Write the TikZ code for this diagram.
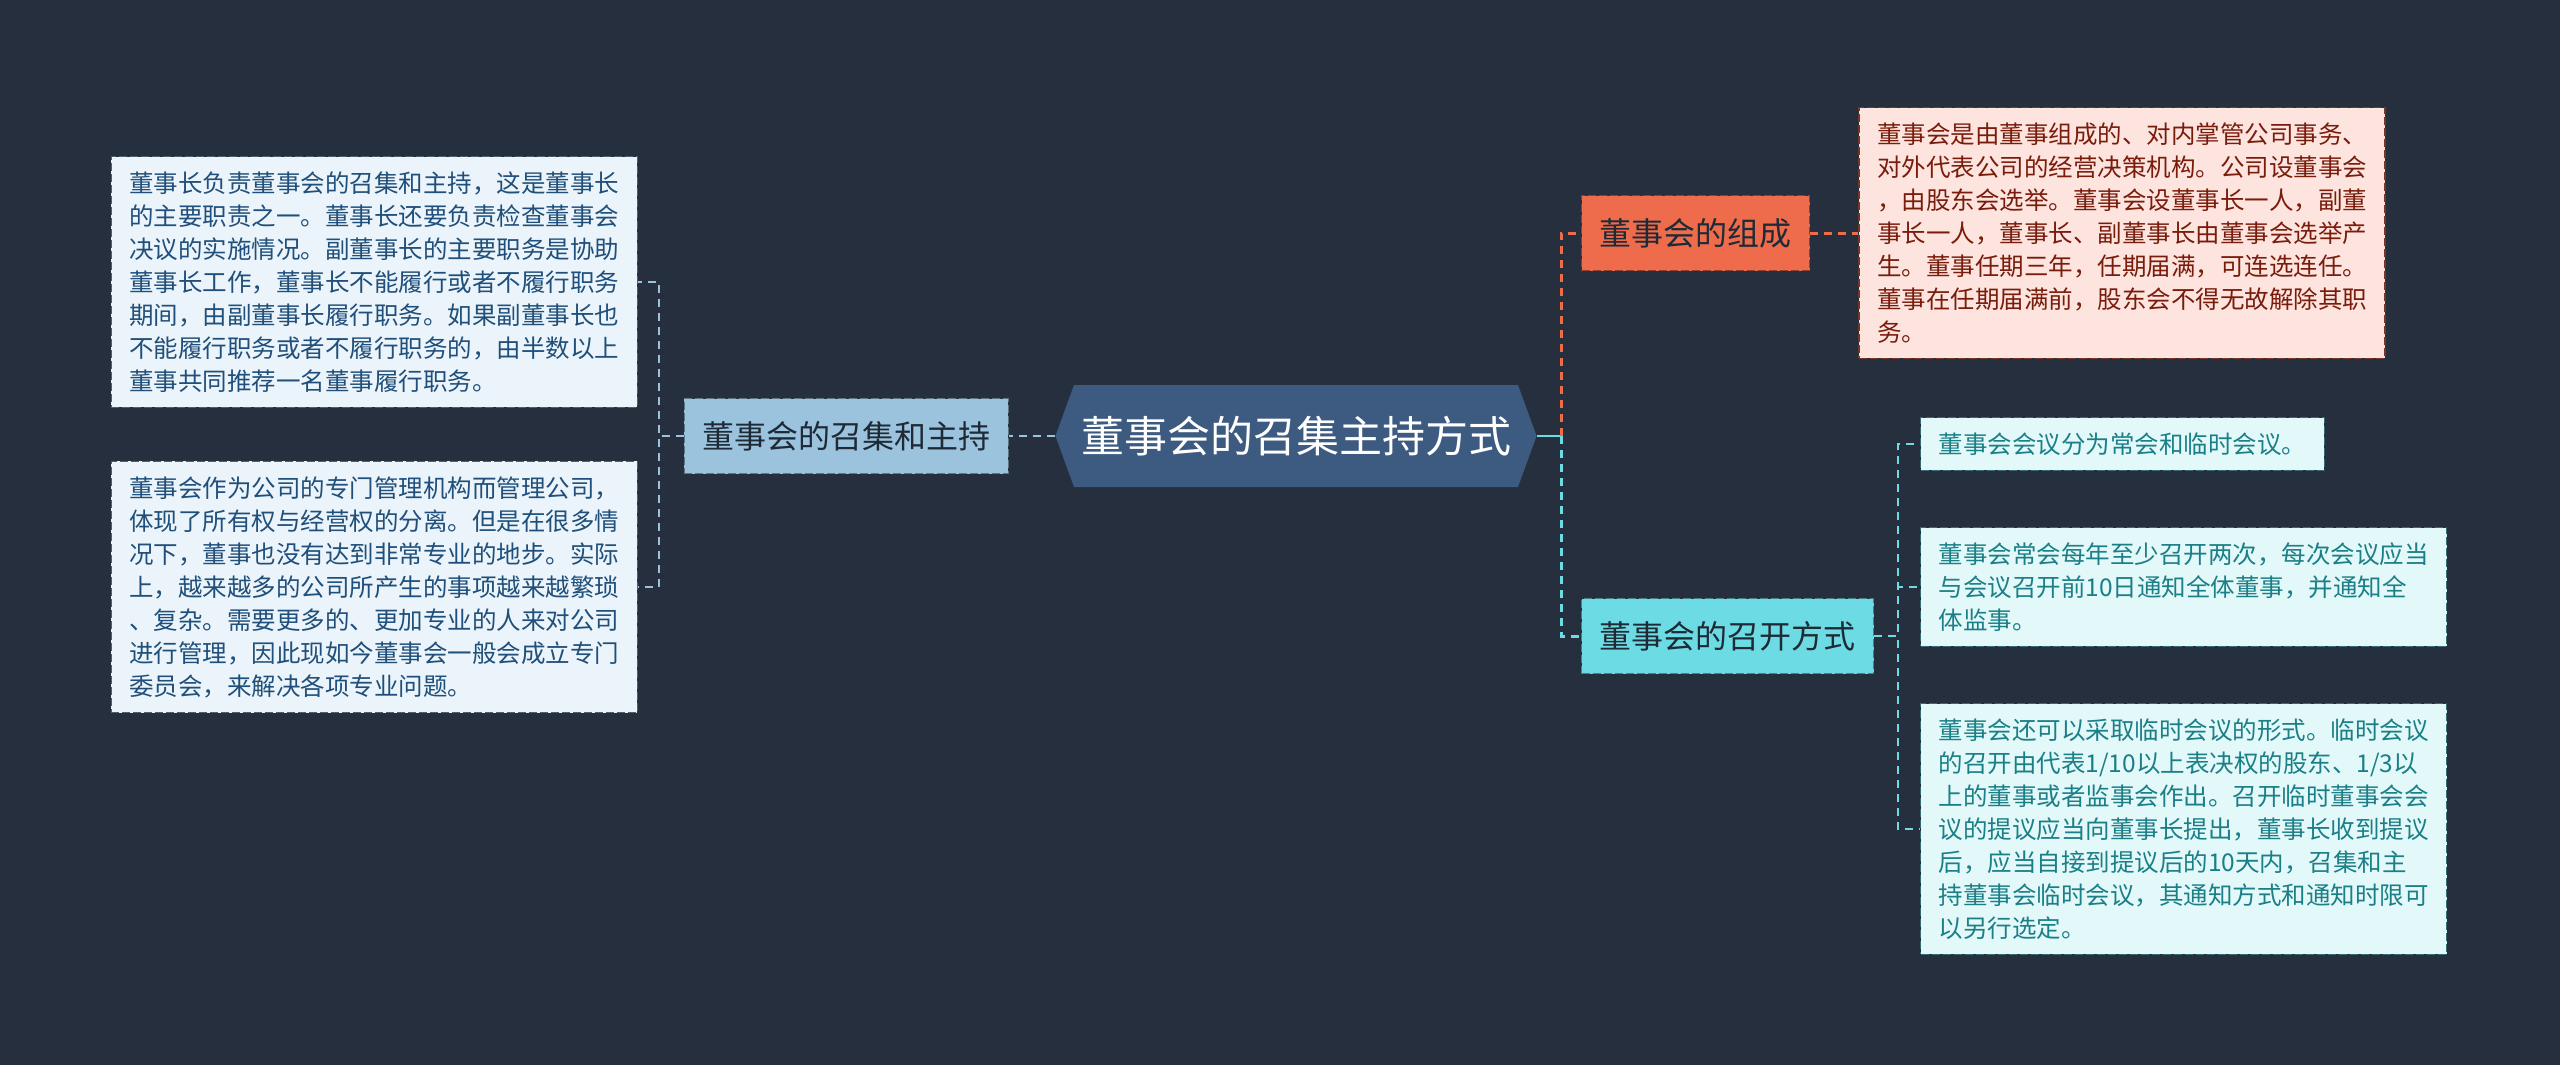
\documentclass[tikz,border=0pt]{standalone}
\usepackage{fontspec}
\setmainfont{Noto Sans CJK SC}
\usetikzlibrary{shapes.symbols, positioning, calc}
\definecolor{canvas}{HTML}{262F3D}
\definecolor{rootblue}{HTML}{3D5A80}
\definecolor{skyblue}{HTML}{9CC3DE}
\definecolor{skytext}{HTML}{1F4F7A}
\definecolor{skyfill}{HTML}{EBF4FA}
\definecolor{coral}{HTML}{EE6B4C}
\definecolor{coralfill}{HTML}{FDE4DE}
\definecolor{coraltext}{HTML}{7A1C0C}
\definecolor{aqua}{HTML}{6CDBE3}
\definecolor{aquafill}{HTML}{E2F8F9}
\definecolor{aquatext}{HTML}{1B7F87}
\definecolor{ink}{HTML}{1E2A36}

\begin{document}
\begin{tikzpicture}[x=0.5pt, y=-0.5pt,
    root/.style={signal, signal to=west and east, signal pointer angle=140, fill=rootblue, text=white, minimum height=51pt, inner xsep=3.5pt, font=\fontsize{21.5pt}{24pt}\selectfont},
    topic/.style={rectangle, draw, dash pattern=on 4pt off 1.5pt, line width=0.7pt, minimum height=37.5pt, inner xsep=9pt, text=ink, font=\fontsize{16pt}{19pt}\selectfont},
    note/.style={rectangle, draw, dash pattern=on 4pt off 1.5pt, line width=0.7pt, align=left, inner xsep=9pt, inner ysep=7.5pt, font=\fontsize{12.25pt}{16.5pt}\selectfont},
    link/.style={dash pattern=on 4pt off 3pt, line width=1.5pt},
]
    \fill[canvas] (0,0) rectangle (2560,1065);

    \node[root] (root) at (1296,436) {董事会的召集主持方式};

    \node[topic, fill=skyblue, draw=skyblue!60!black, left=23pt of root] (convene) {董事会的召集和主持};
    \node[note, fill=skyfill, draw=skyblue!50!black, text=skytext, anchor=east] (duty) at (638,282) {董事长负责董事会的召集和主持，这是董事长\\的主要职责之一。董事长还要负责检查董事会\\决议的实施情况。副董事长的主要职务是协助\\董事长工作，董事长不能履行或者不履行职务\\期间，由副董事长履行职务。如果副董事长也\\不能履行职务或者不履行职务的，由半数以上\\董事共同推荐一名董事履行职务。};
    \node[note, fill=skyfill, draw=skyblue!50!black, text=skytext, anchor=east] (split) at (638,587) {董事会作为公司的专门管理机构而管理公司，\\体现了所有权与经营权的分离。但是在很多情\\况下，董事也没有达到非常专业的地步。实际\\上，越来越多的公司所产生的事项越来越繁琐\\、复杂。需要更多的、更加专业的人来对公司\\进行管理，因此现如今董事会一般会成立专门\\委员会，来解决各项专业问题。};

    \node[topic, fill=coral, draw=coral!60!black, anchor=west] (compose) at (1581,233) {董事会的组成};
    \node[note, fill=coralfill, draw=coral!50!black, text=coraltext, right=24pt of compose] (composenote) {董事会是由董事组成的、对内掌管公司事务、\\对外代表公司的经营决策机构。公司设董事会\\，由股东会选举。董事会设董事长一人，副董\\事长一人，董事长、副董事长由董事会选举产\\生。董事任期三年，任期届满，可连选连任。\\董事在任期届满前，股东会不得无故解除其职\\务。};

    \node[topic, fill=aqua, draw=aqua!60!black, anchor=west] (hold) at (1581,636) {董事会的召开方式};
    \node[note, fill=aquafill, draw=aqua!50!black, text=aquatext, anchor=west] (kinds) at (1920,444) {董事会会议分为常会和临时会议。};
    \node[note, fill=aquafill, draw=aqua!50!black, text=aquatext, anchor=west] (regular) at (1920,587) {董事会常会每年至少召开两次，每次会议应当\\与会议召开前10日通知全体董事，并通知全\\体监事。};
    \node[note, fill=aquafill, draw=aqua!50!black, text=aquatext, anchor=west] (special) at (1920,829) {董事会还可以采取临时会议的形式。临时会议\\的召开由代表1/10以上表决权的股东、1/3以\\上的董事或者监事会作出。召开临时董事会会\\议的提议应当向董事长提出，董事长收到提议\\后，应当自接到提议后的10天内，召集和主\\持董事会临时会议，其通知方式和通知时限可\\以另行选定。};

    \draw[link, line width=1pt, skyblue] (root.west) -- (convene.east);
    \draw[link, line width=1pt, skyblue] (convene.west) -- ++(-25,0) |- (duty.east);
    \draw[link, line width=1pt, skyblue] (convene.west) -- ++(-25,0) |- (split.east);

    \draw[line width=1.4pt, aqua] (root.east) -- ++(24,0) coordinate (hub);
    \draw[link, coral] (hub) |- (compose.west);
    \draw[link, aqua] (hub) |- (hold.west);
    \draw[link, coral] (compose.east) -- (composenote.west);
    \draw[link, line width=1pt, aqua] (hold.east) -- ++(24,0) |- (kinds.west);
    \draw[link, line width=1pt, aqua] (hold.east) -- ++(24,0) |- (regular.west);
    \draw[link, line width=1pt, aqua] (hold.east) -- ++(24,0) |- (special.west);
\end{tikzpicture}
\end{document}
